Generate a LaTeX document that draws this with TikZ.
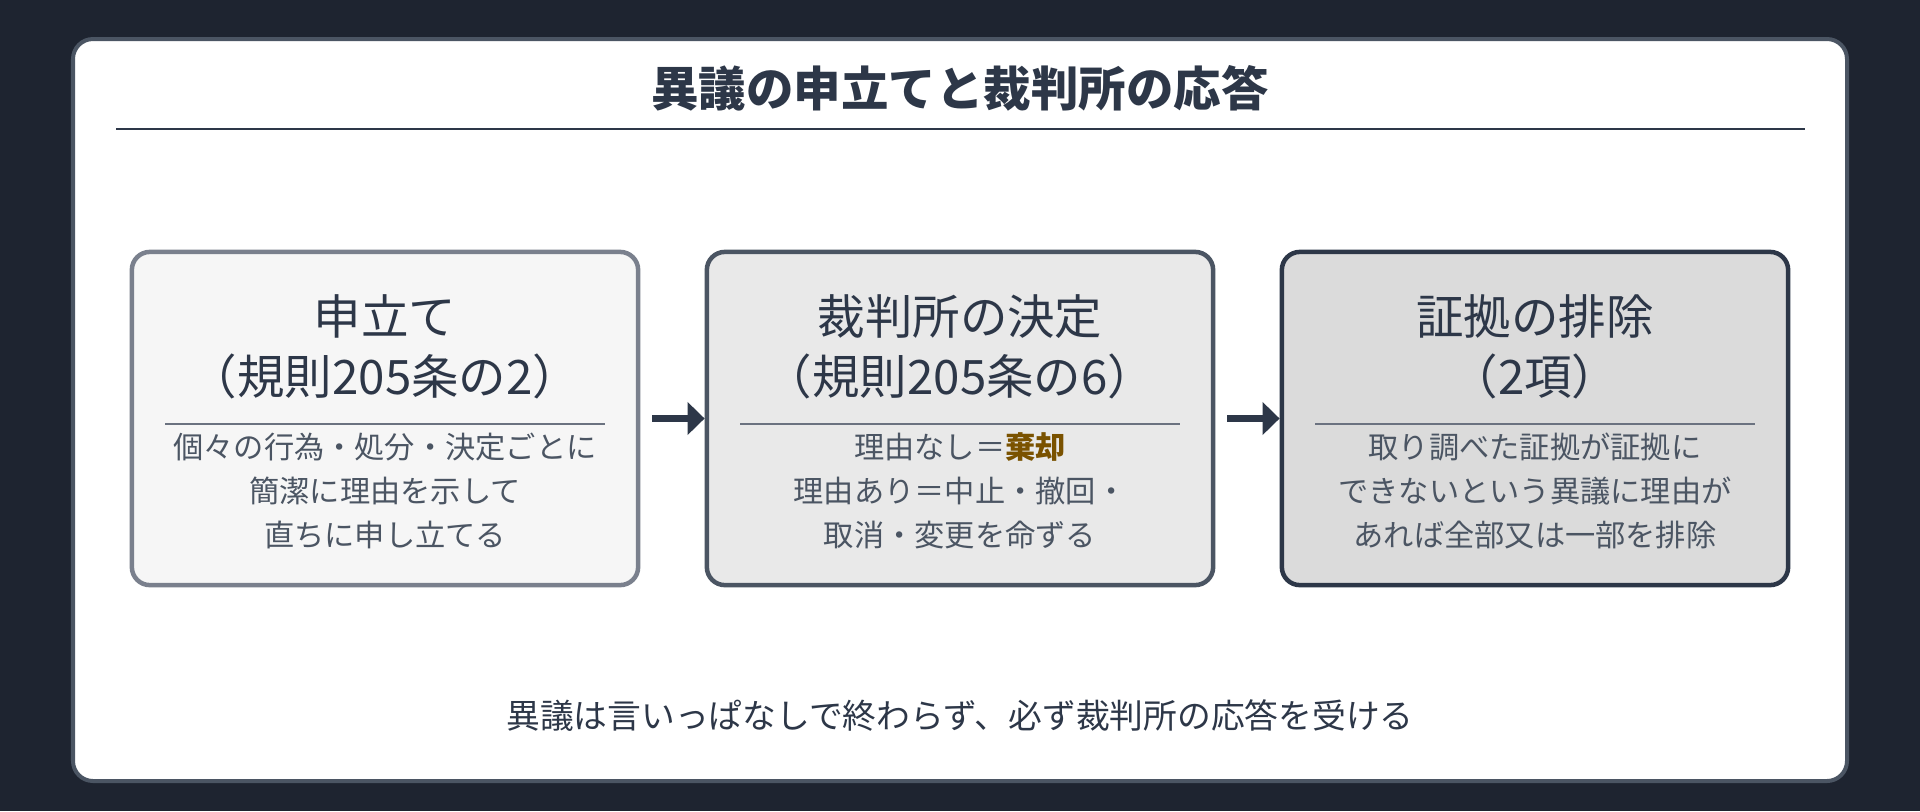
\documentclass[tikz,border=0pt]{standalone}
\usepackage{fontspec}
\setmainfont{Noto Sans CJK JP}
\usetikzlibrary{arrows.meta}
\definecolor{bgdark}{HTML}{1E2430}
\definecolor{inkdark}{HTML}{2D3748}
\definecolor{inkbody}{HTML}{4B5563}
\definecolor{rulegray}{HTML}{6B7280}
\definecolor{kikyaku}{HTML}{7A5200}
\tikzset{
  stepbox/.style={draw, line width=0.45mm, rounded corners=0.18cm, minimum width=5.06cm, minimum height=3.33cm},
  head/.style={align=center, text=inkdark, font=\fontsize{13.5}{17}\selectfont},
  body/.style={align=center, text=inkbody, font=\fontsize{8.6}{12.6}\selectfont},
  flow/.style={line width=0.75mm, draw=inkdark, -{Triangle[length=0.17cm,width=0.32cm]}}
}
\begin{document}
\begin{tikzpicture}[x=0.01cm,y=-0.01cm]
  % backdrop and card
  \fill[bgdark] (0,0) rectangle (1920,811);
  \draw[fill=white, draw=inkbody, line width=0.4mm, rounded corners=0.2cm] (73,39) rectangle (1847,781);
  % title
  \node[text=inkdark, font=\fontsize{13.5}{16}\selectfont\bfseries] (title) at (960,88) {異議の申立てと裁判所の応答};
  \draw[inkdark, line width=0.25mm] (116,129) -- (1805,129);

  % three steps
  \node[stepbox, draw=rulegray!90, fill=gray!7] (moushitate) at (385,418.5) {};
  \node[stepbox, draw=inkbody, fill=gray!17] (kettei) at (960,418.5) {};
  \node[stepbox, draw=inkdark, fill=gray!28] (haijo) at (1535,418.5) {};

  \node[head] (moushitateH) at (385,347) {申立て\\（規則205条の2）};
  \node[head] (ketteiH) at (960,347) {裁判所の決定\\（規則205条の6）};
  \node[head] (haijoH) at (1535,347) {証拠の排除\\（2項）};

  \foreach \cx in {385,960,1535}
    \draw[rulegray, line width=0.25mm] (\cx-220,424) -- (\cx+220,424);

  \node[body] (moushitateB) at (385,491) {個々の行為・処分・決定ごとに\\簡潔に理由を示して\\直ちに申し立てる};
  \node[body] (ketteiB) at (960,491) {理由なし＝\textbf{\textcolor{kikyaku}{棄却}}\\理由あり＝中止・撤回・\\取消・変更を命ずる};
  \node[body] (haijoB) at (1535,491) {取り調べた証拠が証拠に\\できないという異議に理由が\\あれば全部又は一部を排除};

  % arrows
  \draw[flow] (moushitate.east) ++(12,0) coordinate (a1) -- (kettei.west);
  \draw[flow] (kettei.east) ++(12,0) coordinate (a2) -- (haijo.west);

  % footer
  \node[text=inkdark, font=\fontsize{9.6}{12}\selectfont] (footer) at (960,716) {異議は言いっぱなしで終わらず、必ず裁判所の応答を受ける};
\end{tikzpicture}
\end{document}
